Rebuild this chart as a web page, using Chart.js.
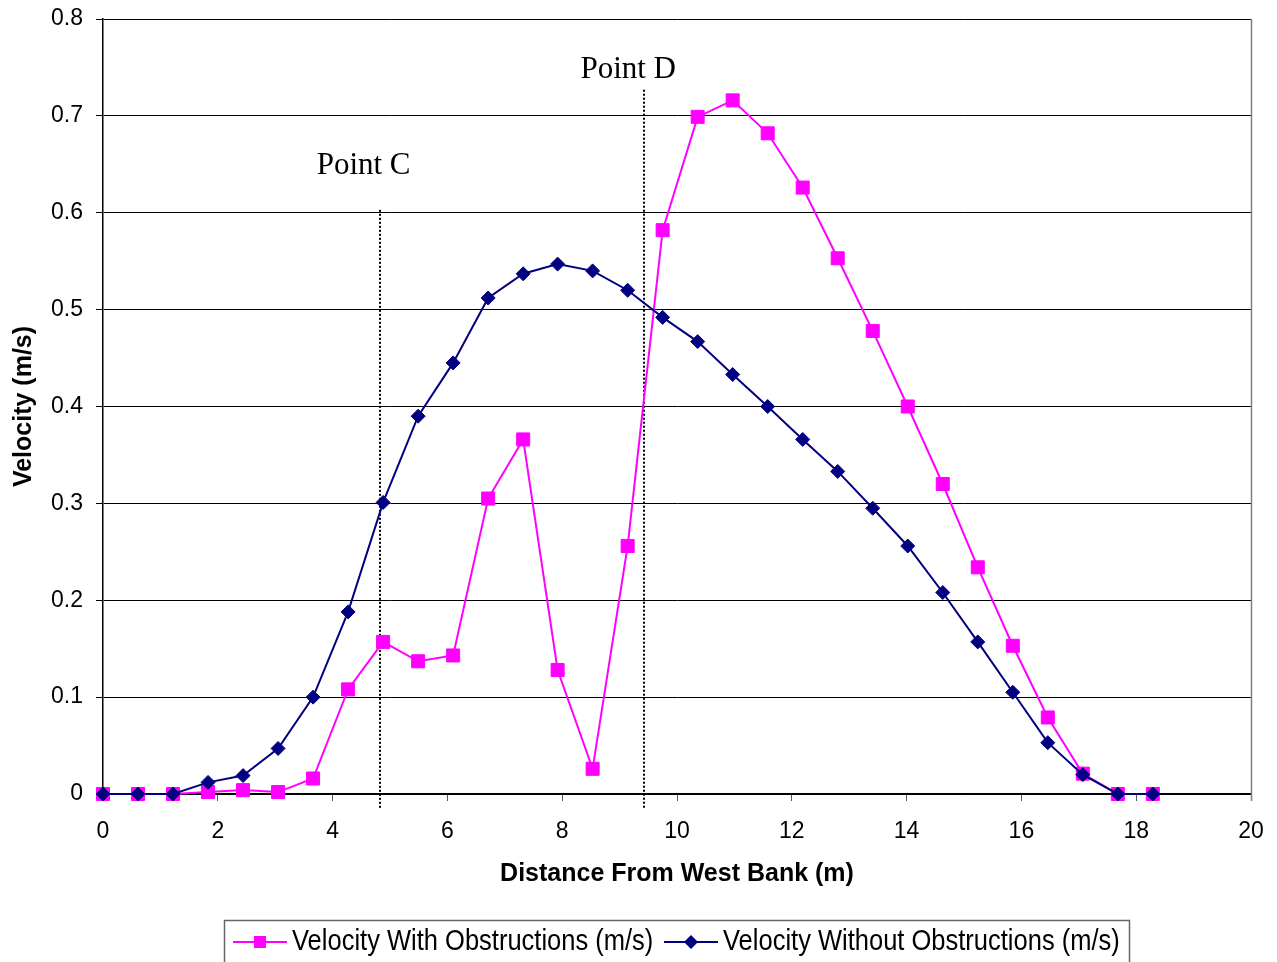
<!DOCTYPE html>
<html>
<head>
<meta charset="utf-8">
<script src="https://cdn.jsdelivr.net/npm/chart.js@4/dist/chart.umd.min.js"></script>
<style>
  html, body { margin: 0; padding: 0; background: #ffffff; }
  #wrap { width: 1277px; height: 962px; position: relative; }
</style>
</head>
<body>
<div id="wrap"><canvas id="c" width="1277" height="962"></canvas></div>
<script>
// Stations across the channel (m), every 2 ft
const distance = [0, 0.61, 1.22, 1.83, 2.44, 3.05, 3.66, 4.27, 4.88, 5.49, 6.10, 6.71, 7.32, 7.92, 8.53,
                  9.14, 9.75, 10.36, 10.97, 11.58, 12.19, 12.80, 13.41, 14.02, 14.63, 15.24, 15.85, 16.46,
                  17.07, 17.68, 18.29];
// Velocity measured with obstructions in place (m/s)
const withObstructions = [0, 0, 0, 0.002, 0.004, 0.002, 0.016, 0.108, 0.157, 0.137, 0.143, 0.305, 0.366,
                          0.128, 0.026, 0.256, 0.582, 0.699, 0.716, 0.682, 0.626, 0.553, 0.478, 0.400,
                          0.320, 0.234, 0.153, 0.079, 0.021, 0, 0];
// Velocity measured without obstructions (m/s)
const withoutObstructions = [0, 0, 0, 0.012, 0.019, 0.047, 0.100, 0.188, 0.301, 0.390, 0.445, 0.512, 0.537,
                             0.547, 0.540, 0.520, 0.492, 0.467, 0.433, 0.400, 0.366, 0.333, 0.295, 0.256,
                             0.208, 0.157, 0.105, 0.053, 0.020, 0, 0];
const seriesNames = ['Velocity With Obstructions (m/s)', 'Velocity Without Obstructions (m/s)'];

// Reference stations marked with dotted verticals
const markerNames = ['Point C', 'Point D'];
const markerX = [4.83, 9.43];
const markerTop = [0.603, 0.727];
const markerLabelX = [4.54, 9.15];
const markerLabelY = [0.648, 0.748];

const xTicks = [0, 2, 4, 6, 8, 10, 12, 14, 16, 18, 20];
const yTicks = [0, 0.1, 0.2, 0.3, 0.4, 0.5, 0.6, 0.7, 0.8];

const PINK = '#ff00ff';
const NAVY = '#000080';

function pts(ys) { return distance.map((x, i) => ({ x: x, y: ys[i] })); }

// Dotted station lines and their labels, drawn under the series
const stationMarkers = {
  id: 'stationMarkers',
  beforeDatasetsDraw(chart) {
    const { ctx, scales: { x, y }, chartArea } = chart;
    ctx.save();
    ctx.strokeStyle = '#000';
    ctx.lineWidth = 2;
    ctx.setLineDash([2, 2]);
    markerX.forEach((mx, i) => {
      const px = Math.round(x.getPixelForValue(mx));
      ctx.beginPath();
      ctx.moveTo(px, y.getPixelForValue(markerTop[i]));
      ctx.lineTo(px, chartArea.bottom + 14);
      ctx.stroke();
    });
    ctx.setLineDash([]);
    ctx.fillStyle = '#000';
    ctx.font = '31px "Liberation Serif", "Times New Roman", serif';
    ctx.textAlign = 'center';
    ctx.textBaseline = 'middle';
    markerNames.forEach((name, i) => {
      ctx.fillText(name, x.getPixelForValue(markerLabelX[i]), y.getPixelForValue(markerLabelY[i]));
    });
    ctx.restore();
  }
};

// Right frame edge and the boxed legend below the plot
const frameAndLegend = {
  id: 'frameAndLegend',
  afterDraw(chart) {
    const { ctx, chartArea } = chart;
    ctx.save();
    ctx.strokeStyle = '#808080';
    ctx.lineWidth = 1.5;
    ctx.beginPath();
    ctx.moveTo(chartArea.right + 0.5, chartArea.top);
    ctx.lineTo(chartArea.right + 0.5, chartArea.bottom + 7);
    ctx.stroke();

    // legend box
    ctx.strokeStyle = '#666';
    ctx.lineWidth = 1.5;
    ctx.strokeRect(224.5, 920.5, 905, 60);

    const cy = 942;
    const items = [
      { name: seriesNames[0], color: PINK, x0: 233, style: 'rect' },
      { name: seriesNames[1], color: NAVY, x0: 664, style: 'diamond' }
    ];
    items.forEach(it => {
      ctx.strokeStyle = it.color;
      ctx.fillStyle = it.color;
      ctx.lineWidth = 2;
      ctx.beginPath();
      ctx.moveTo(it.x0, cy);
      ctx.lineTo(it.x0 + 54, cy);
      ctx.stroke();
      const mx = it.x0 + 27;
      ctx.beginPath();
      if (it.style === 'rect') {
        ctx.rect(mx - 6, cy - 6, 12, 12);
      } else {
        ctx.moveTo(mx - 7, cy); ctx.lineTo(mx, cy - 7); ctx.lineTo(mx + 7, cy); ctx.lineTo(mx, cy + 7);
        ctx.closePath();
      }
      ctx.fill();
      ctx.save();
      ctx.fillStyle = '#000';
      ctx.font = '30px "Liberation Sans", Arial, sans-serif';
      ctx.textAlign = 'left';
      ctx.textBaseline = 'middle';
      ctx.translate(it.x0 + 59, cy);
      ctx.scale(0.85, 1);
      ctx.fillText(it.name, 0, 0);
      ctx.restore();
    });
    ctx.restore();
  }
};

new Chart(document.getElementById('c'), {
  type: 'line',
  data: {
    datasets: [
      {
        label: seriesNames[0],
        data: pts(withObstructions),
        borderColor: PINK,
        backgroundColor: PINK,
        borderWidth: 2,
        pointStyle: 'rect',
        pointRadius: 9.2,
        pointBorderWidth: 1,
        pointBackgroundColor: PINK,
        pointBorderColor: PINK,
        tension: 0,
        clip: false,
        order: 1
      },
      {
        label: seriesNames[1],
        data: pts(withoutObstructions),
        borderColor: NAVY,
        backgroundColor: NAVY,
        borderWidth: 2,
        pointStyle: 'rectRot',
        pointRadius: 7,
        pointBorderWidth: 1,
        pointBackgroundColor: NAVY,
        pointBorderColor: NAVY,
        tension: 0,
        clip: false,
        order: 0
      }
    ]
  },
  options: {
    responsive: false,
    devicePixelRatio: 1,
    animation: false,
    layout: { padding: { left: 0, top: 19, right: 26, bottom: 0 } },
    plugins: {
      legend: { display: false },
      tooltip: { enabled: false }
    },
    scales: {
      x: {
        type: 'linear',
        min: 0,
        max: 20,
        afterFit(scale) {
          scale.height = 168;
          scale.paddingLeft = 0;
          scale.paddingRight = 0;
        },
        afterBuildTicks(scale) { scale.ticks = xTicks.map(v => ({ value: v })); },
        ticks: {
          color: '#000',
          padding: 17,
          maxRotation: 0,
          font: { family: '"Liberation Sans", Arial, sans-serif', size: 23 },
          callback: v => String(v)
        },
        grid: { drawOnChartArea: false, drawTicks: true, tickLength: 7, color: '#555', lineWidth: 1 },
        border: { display: true, color: '#000', width: 1.5 },
        title: {
          display: true,
          text: 'Distance From West Bank (m)',
          color: '#000',
          font: { family: '"Liberation Sans", Arial, sans-serif', size: 25, weight: 'bold' },
          padding: { top: 0, bottom: 73 }
        }
      },
      y: {
        min: 0,
        max: 0.8,
        afterFit(scale) {
          scale.width = 103;
          scale.paddingTop = 0;
          scale.paddingBottom = 0;
        },
        afterBuildTicks(scale) { scale.ticks = yTicks.map(v => ({ value: v })); },
        ticks: {
          color: '#000',
          padding: 13,
          font: { family: '"Liberation Sans", Arial, sans-serif', size: 23 },
          callback: v => (v === 0 ? '0' : v.toFixed(1))
        },
        grid: { color: '#000', lineWidth: 1, tickLength: 7, drawTicks: true },
        border: { display: true, color: '#000', width: 1.5 },
        title: {
          display: true,
          text: 'Velocity (m/s)',
          color: '#000',
          font: { family: '"Liberation Sans", Arial, sans-serif', size: 25, weight: 'bold' },
          padding: { top: 9, bottom: 0 }
        }
      }
    }
  },
  plugins: [stationMarkers, frameAndLegend]
});
</script>
</body>
</html>
